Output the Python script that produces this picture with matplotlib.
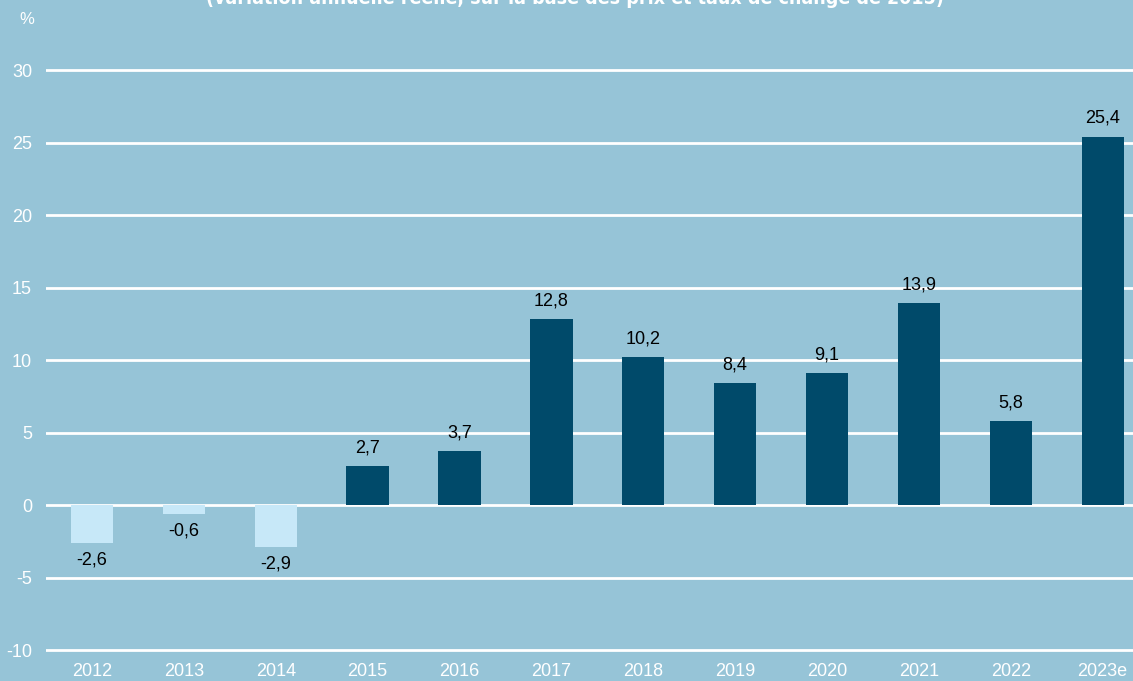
import matplotlib.pyplot as plt

years = ["2012", "2013", "2014", "2015", "2016", "2017", "2018", "2019",
         "2020", "2021", "2022", "2023e"]
growth = [-2.6, -0.6, -2.9, 2.7, 3.7, 12.8, 10.2, 8.4, 9.1, 13.9, 5.8, 25.4]
y_ticks = [-10, -5, 0, 5, 10, 15, 20, 25, 30]
subtitle = "(variation annuelle réelle, sur la base des prix et taux de change de 2015)"

bg = "#96c4d7"
dark = "#004a6a"
light = "#c7e8f8"

plt.rcParams['font.family'] = ['Liberation Sans', 'DejaVu Sans']
plt.rcParams['axes.unicode_minus'] = False

fig = plt.figure(figsize=(11.33, 6.81), dpi=100, facecolor=bg)
# -10.2 .. 33 maps onto pixel rows 653 .. 26.5
ax = fig.add_axes([46 / 1133, 28 / 681, 1 - 46 / 1133, (653 - 26.5) / 681])
ax.set_facecolor(bg)

colors = [light if v < 0 else dark for v in growth]
xs = range(len(years))
ax.bar(xs, growth, width=0.46, color=colors, zorder=3)

for x, v in zip(xs, growth):
    label = f"{v:.1f}".replace(".", ",")
    if v < 0:
        ax.annotate(label, (x, v), xytext=(0, -6), textcoords="offset points",
                    ha="center", va="top", fontsize=13, color="black", zorder=4)
    else:
        ax.annotate(label, (x, v), xytext=(0, 7), textcoords="offset points",
                    ha="center", va="bottom", fontsize=13, color="black", zorder=4)

ax.set_xlim(-0.5, 11.33)
ax.set_ylim(-10.2, 33)
ax.set_yticks(y_ticks)
ax.set_xticks(list(xs))
ax.set_xticklabels(years)
ax.grid(axis="y", color="white", linewidth=2, zorder=1)
ax.tick_params(axis="both", length=0, colors="white", labelsize=13)
ax.tick_params(axis="x", pad=7)
ax.tick_params(axis="y", pad=10)
for s in ax.spines.values():
    s.set_visible(False)

fig.text(27 / 1133, 1 - 20 / 681, "%", color="white", fontsize=12,
         ha="center", va="center")
fig.text(575 / 1133, 1 - 4 / 681, subtitle, color="white", fontsize=14,
         fontweight="bold", fontstretch="condensed", ha="center", va="baseline",
         family=["DejaVu Sans"])

fig.savefig("out.png", dpi=100, facecolor=bg)
